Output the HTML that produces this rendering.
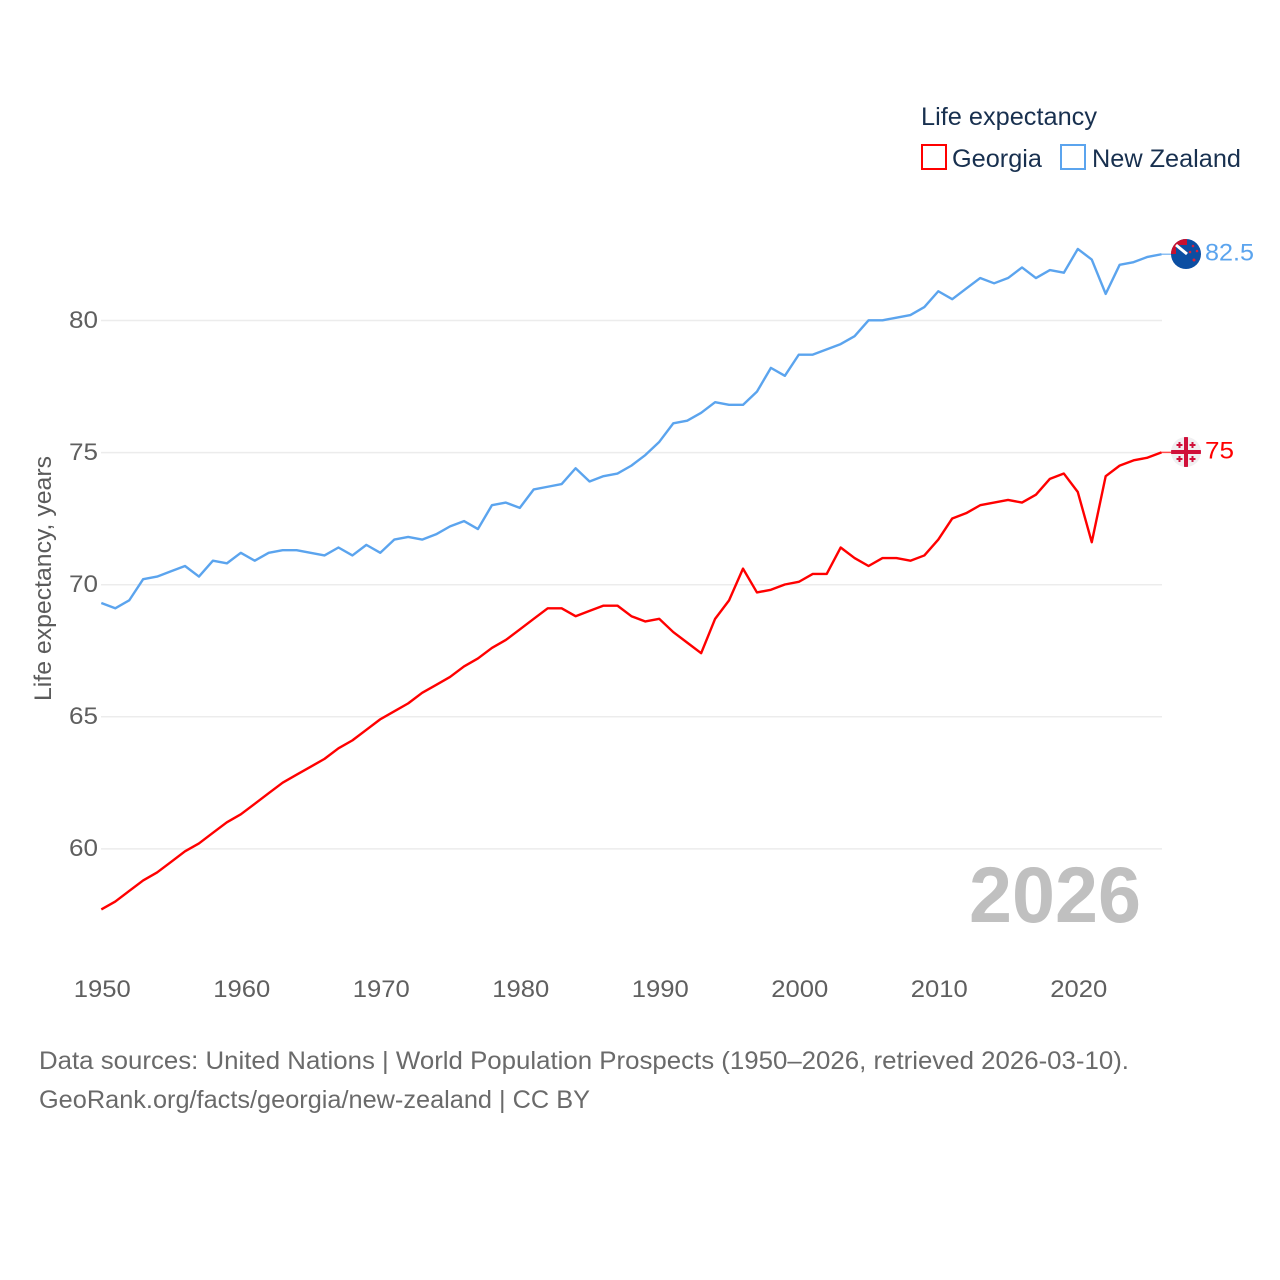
<!DOCTYPE html>
<html lang="en">
<head>
<meta charset="utf-8">
<title>Life expectancy: Georgia and New Zealand</title>
<style>
html,body{margin:0;padding:0;background:#fff;width:1280px;height:1280px;overflow:hidden}
svg{display:block}
text{font-family:"Liberation Sans",Arial,sans-serif}
</style>
</head>
<body>
<svg id="chart" xmlns="http://www.w3.org/2000/svg" width="1280" height="1280" viewBox="0 0 1280 1280">
  <defs>
    <clipPath id="nz-clip"><circle cx="1186" cy="254" r="15"/></clipPath>
    <clipPath id="ge-clip"><circle cx="1186" cy="452" r="15"/></clipPath>
  </defs>
  <g id="grid"></g>
  <g id="yticks"></g>
  <g id="xticks"></g>
  <text transform="translate(51,701) rotate(-90)" font-size="24" fill="#5b5b5b" textLength="245" lengthAdjust="spacingAndGlyphs">Life expectancy, years</text>
  <text x="969" y="922" font-size="79" font-weight="700" fill="#c0c0c0" textLength="172" lengthAdjust="spacingAndGlyphs">2026</text>
  <g id="series"></g>

  <g>
    <text x="921" y="125" font-size="25" fill="#18304f" textLength="176" lengthAdjust="spacingAndGlyphs">Life expectancy</text>
    <g>
      <rect x="922" y="145" width="24" height="24" fill="#fff" stroke="#ff0000" stroke-width="2"/>
      <text x="952" y="167" font-size="25" fill="#18304f" textLength="90" lengthAdjust="spacingAndGlyphs">Georgia</text>
    </g>
    <g>
      <rect x="1061" y="145" width="24" height="24" fill="#fff" stroke="#5ba4ee" stroke-width="2"/>
      <text x="1092" y="167" font-size="25" fill="#18304f" textLength="149" lengthAdjust="spacingAndGlyphs">New Zealand</text>
    </g>
  </g>

  <g clip-path="url(#nz-clip)">
    <rect x="1171" y="239" width="30" height="30" fill="#0b4ea2"/>
    <rect x="1171" y="239" width="16" height="15" fill="#c8102e"/>
    <rect x="1176" y="245" width="11" height="9" fill="#0b4ea2"/>
    <path d="M1176 245 L1187 254" stroke="#fff" stroke-width="3"/>
    <circle cx="1193" cy="246" r="1.3" fill="#d8203a"/>
    <circle cx="1190" cy="252" r="1.3" fill="#d8203a"/>
    <circle cx="1197" cy="251" r="1.3" fill="#d8203a"/>
    <circle cx="1194" cy="260" r="1.5" fill="#d8203a"/>
  </g>
  <g clip-path="url(#ge-clip)">
    <rect x="1171" y="437" width="30" height="30" fill="#f0eff1"/>
    <path d="M1186 437V467M1171 452H1201" stroke="#d0103a" stroke-width="4"/>
    <path d="M1179.500 442v6M1176.500 445h6M1192.500 442v6M1189.500 445h6M1179.500 456v6M1176.500 459h6M1192.500 456v6M1189.500 459h6" stroke="#d0103a" stroke-width="2"/>
  </g>

  <g>
    <text x="39" y="1069" font-size="25" fill="#6a6a6a" textLength="1090" lengthAdjust="spacingAndGlyphs">Data sources: United Nations | World Population Prospects (1950–2026, retrieved 2026-03-10).</text>
    <text x="39" y="1108" font-size="25" fill="#6a6a6a" textLength="551" lengthAdjust="spacingAndGlyphs">GeoRank.org/facts/georgia/new-zealand | CC BY</text>
  </g>
</svg>
<script>
const firstYear = 1950;
const newZealandValues = [69.3,69.1,69.4,70.2,70.3,70.5,70.7,70.3,70.9,70.8,71.2,70.9,71.2,71.3,71.3,71.2,71.1,71.4,71.1,71.5,71.2,71.7,71.8,71.7,71.9,72.2,72.4,72.1,73.0,73.1,72.9,73.6,73.7,73.8,74.4,73.9,74.1,74.2,74.5,74.9,75.4,76.1,76.2,76.5,76.9,76.8,76.8,77.3,78.2,77.9,78.7,78.7,78.9,79.1,79.4,80.0,80.0,80.1,80.2,80.5,81.1,80.8,81.2,81.6,81.4,81.6,82.0,81.6,81.9,81.8,82.7,82.3,81.0,82.1,82.2,82.4,82.5];
const georgiaValues = [57.7,58.0,58.4,58.8,59.1,59.5,59.9,60.2,60.6,61.0,61.3,61.7,62.1,62.5,62.8,63.1,63.4,63.8,64.1,64.5,64.9,65.2,65.5,65.9,66.2,66.5,66.9,67.2,67.6,67.9,68.3,68.7,69.1,69.1,68.8,69.0,69.2,69.2,68.8,68.6,68.7,68.2,67.8,67.4,68.7,69.4,70.6,69.7,69.8,70.0,70.1,70.4,70.4,71.4,71.0,70.7,71.0,71.0,70.9,71.1,71.7,72.5,72.7,73.0,73.1,73.2,73.1,73.4,74.0,74.2,73.5,71.6,74.1,74.5,74.7,74.8,75.0];
const yTickValues = [60,65,70,75,80];
const xTickValues = [1950,1960,1970,1980,1990,2000,2010,2020];

const NS = 'http://www.w3.org/2000/svg';
const xScale = year => 101.3 + (year - 1950) * 13.95;
const yScale = v => 320.3 + (80 - v) * 26.42;
const mk = (tag, parent) => { const el = document.createElementNS(NS, tag); parent.appendChild(el); return el; };

const gridG = document.getElementById('grid');
const yG = document.getElementById('yticks');
const xG = document.getElementById('xticks');
const seriesG = document.getElementById('series');

yTickValues.forEach(v => {
  const line = mk('line', gridG);
  
  
  line.setAttribute('x1', 101);
  line.setAttribute('x2', 1162);
  line.setAttribute('y1', yScale(v) + 0.2);
  line.setAttribute('y2', yScale(v) + 0.2);
  line.setAttribute('stroke', '#ececec');
  line.setAttribute('stroke-width', 1.5);
  const t = mk('text', yG);
  
  
  t.setAttribute('x', 98);
  t.setAttribute('y', yScale(v) + 7.5);
  t.setAttribute('text-anchor', 'end');
  t.setAttribute('font-size', 24);
  t.setAttribute('fill', '#5f5f5f');
  t.setAttribute('textLength', 29);
  t.setAttribute('lengthAdjust', 'spacingAndGlyphs');
  t.textContent = v;
});

xTickValues.forEach(v => {
  const t = mk('text', xG);
  
  
  t.setAttribute('x', xScale(v) + 1);
  t.setAttribute('y', 997);
  t.setAttribute('text-anchor', 'middle');
  t.setAttribute('font-size', 24);
  t.setAttribute('fill', '#5f5f5f');
  t.setAttribute('textLength', 57);
  t.setAttribute('lengthAdjust', 'spacingAndGlyphs');
  t.textContent = v;
});

function drawSeries(values, color, key, labelDy, labelWidth) {
  const pts = values.map((v, i) => xScale(firstYear + i).toFixed(2) + ',' + yScale(v).toFixed(2)).join(' ');
  const line = mk('polyline', seriesG);
  
  
  line.setAttribute('points', pts);
  line.setAttribute('fill', 'none');
  line.setAttribute('stroke', color);
  line.setAttribute('stroke-width', 2.4);
  line.setAttribute('stroke-linejoin', 'round');
  const last = values[values.length - 1];
  const lastX = xScale(firstYear + values.length - 1);
  const conn = mk('line', seriesG);
  
  
  conn.setAttribute('x1', lastX);
  conn.setAttribute('x2', lastX + 10);
  conn.setAttribute('y1', yScale(last));
  conn.setAttribute('y2', yScale(last));
  conn.setAttribute('stroke', color);
  conn.setAttribute('stroke-width', 1.5);
  conn.setAttribute('opacity', 0.7);
  const label = mk('text', seriesG);
  
  
  label.setAttribute('x', 1205);
  label.setAttribute('y', yScale(last) + labelDy);
  label.setAttribute('font-size', 24);
  label.setAttribute('fill', color);
  label.setAttribute('textLength', labelWidth);
  label.setAttribute('lengthAdjust', 'spacingAndGlyphs');
  label.textContent = String(last).replace(/\.0$/, '');
}

drawSeries(newZealandValues, '#5ba4ee', 'new-zealand', 6, 49);
drawSeries(georgiaValues, '#ff0000', 'georgia', 6, 29);
</script>
</body>
</html>
